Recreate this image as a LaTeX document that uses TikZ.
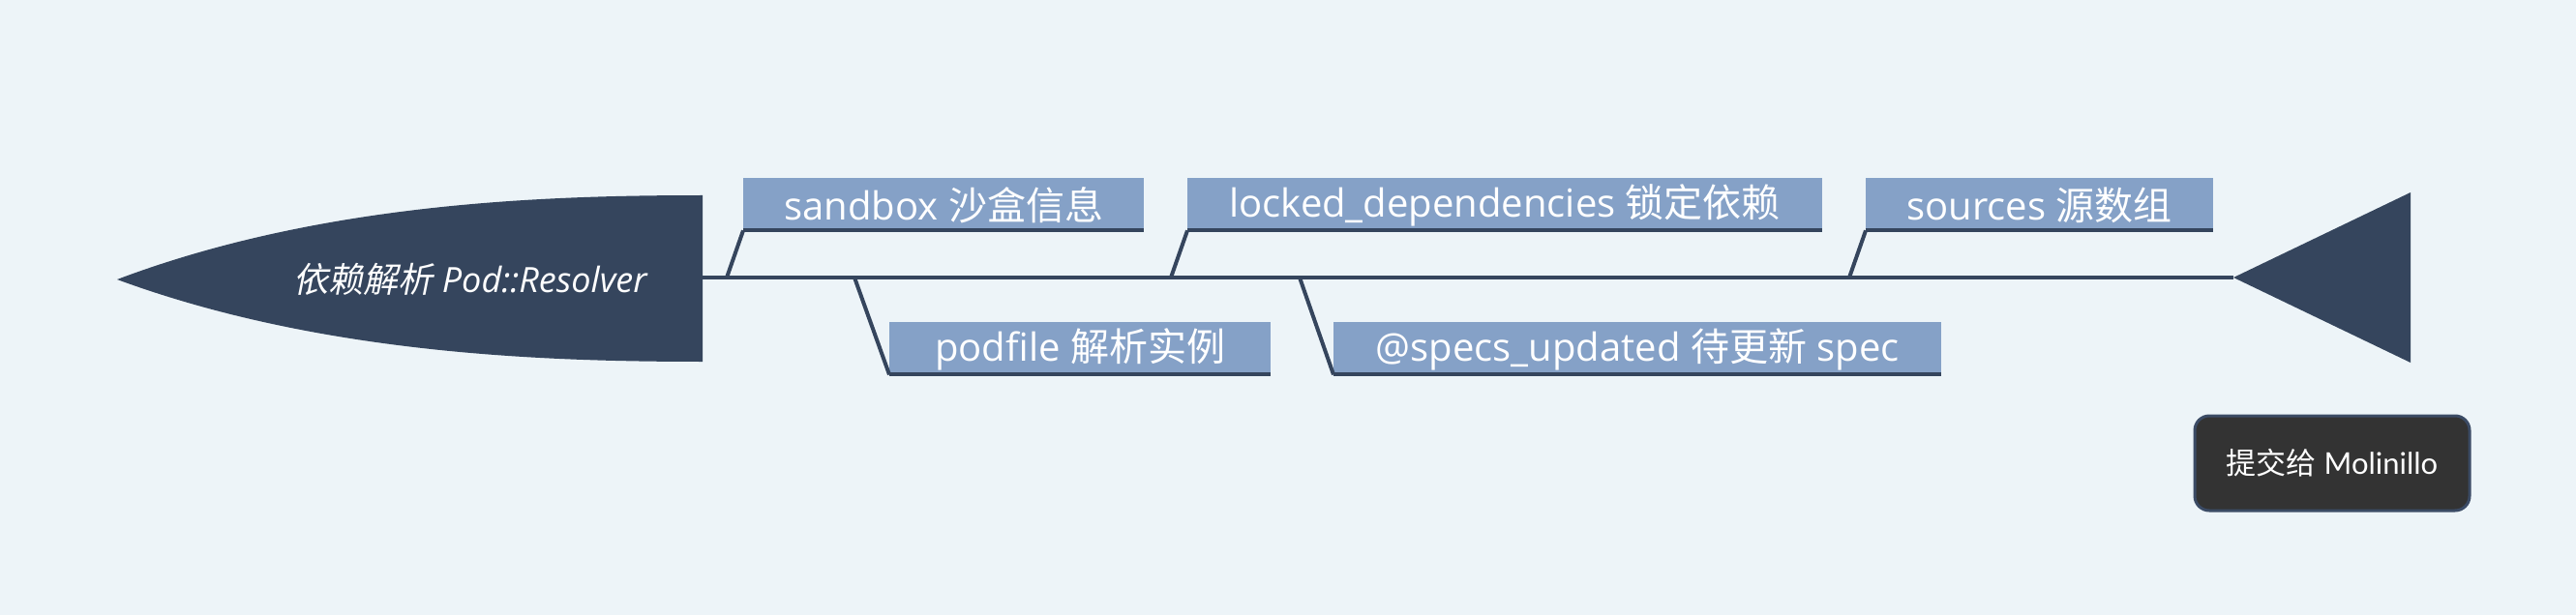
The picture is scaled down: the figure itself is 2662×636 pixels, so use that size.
\documentclass[tikz,border=0pt]{standalone}
\usepackage{fontspec}
\setmainfont{Open Sans}
\newfontfamily\cjk{Noto Sans CJK SC}
\newfontfamily\cjkit{Noto Sans CJK SC}[FakeSlant=0.2]
\newfontfamily\notefont{Lato}
\definecolor{fishdark}{HTML}{35455D}
\definecolor{topicblue}{HTML}{85A1C7}
\definecolor{paper}{HTML}{EDF4F8}
\definecolor{notefill}{HTML}{333333}
\definecolor{noteline}{HTML}{3B4B65}
\tikzset{
SPINE/.style ={draw=fishdark,line join=miter,line cap=butt,line width=4pt},
FISH/.style ={fill=fishdark,draw=none},
TOPIC/.style ={fill=topicblue,text=white,inner sep=0pt,anchor=north west,minimum height=56pt,font=\fontsize{40}{44}\selectfont},
NOTE/.style ={fill=notefill,draw=noteline,line width=3pt,rounded corners=15pt,text=white,minimum width=284pt,minimum height=98pt,font=\notefont\fontsize{31}{34}\selectfont},
}
\begin{document}
\begin{tikzpicture}
[x=1pt,y=-1pt]
	\fill[paper] (0,0) rectangle (2662,636);
	\useasboundingbox (0,0) rectangle (2662,636);
	%Head and tail
	\path[FISH] (121,289) .. controls (330,210) and (560,202) .. (726,202)
		-- (726,374) .. controls (560,374) and (330,366) .. (121,289) -- cycle;
	\path[FISH] (2308,287) -- (2491,199) -- (2491,375) -- cycle;
	\node[text=white,font=\fontsize{36}{40}\selectfont\itshape] (head) at (486,289) {{\cjkit 依赖解析} Pod::Resolver};
	\coordinate (neck) at (726,287);
	\coordinate (tail) at (2308,287);
	\draw[SPINE] (neck) -- (tail);
	%Topics
	\node[TOPIC,minimum width=414pt] (sandbox) at (768,184) {sandbox {\cjk 沙盒信息}};
	\node[TOPIC,minimum width=656pt] (locked) at (1227,184) {locked\_dependencies {\cjk 锁定依赖}};
	\node[TOPIC,minimum width=359pt] (sources) at (1928,184) {sources {\cjk 源数组}};
	\node[TOPIC,minimum width=394pt] (podfile) at (919,333) {podfile {\cjk 解析实例}};
	\node[TOPIC,minimum width=628pt] (specs) at (1378,333) {@specs\_updated {\cjk 待更新} spec};
	\foreach \t in {sandbox,locked,sources,podfile,specs}
		\draw[SPINE] ([yshift=2pt]\t.south west) -- ([yshift=2pt]\t.south east);
	%Bones
	\coordinate (b1) at (751,287);
	\coordinate (b2) at (1210,287);
	\coordinate (b3) at (1911,287);
	\coordinate (b4) at (883,287);
	\coordinate (b5) at (1343,287);
	\draw[SPINE] (b1) -- ([yshift=2pt]sandbox.south west);
	\draw[SPINE] (b2) -- ([yshift=2pt]locked.south west);
	\draw[SPINE] (b3) -- ([yshift=2pt]sources.south west);
	\draw[SPINE] (b4) -- ([yshift=2pt]podfile.south west);
	\draw[SPINE] (b5) -- ([yshift=2pt]specs.south west);
	\node[NOTE] (submit) at (2410,479) {{\cjk 提交给} Molinillo};
\end{tikzpicture}
\end{document}
